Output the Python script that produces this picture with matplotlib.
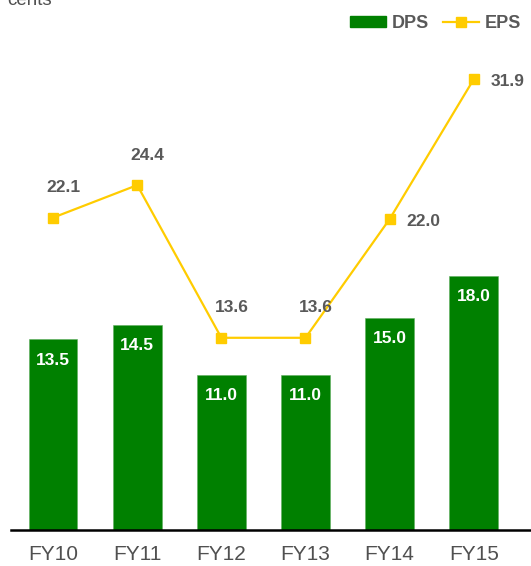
import matplotlib
matplotlib.use("Agg")
import matplotlib.pyplot as plt
from matplotlib.lines import Line2D
from matplotlib.patches import Patch

plt.rcParams['font.family'] = ['Liberation Sans', 'DejaVu Sans']

years = ["FY10", "FY11", "FY12", "FY13", "FY14", "FY15"]
dps = [13.5, 14.5, 11.0, 11.0, 15.0, 18.0]
eps = [22.1, 24.4, 13.6, 13.6, 22.0, 31.9]

green = "#008000"
yellow = "#FFCC00"
label_grey = "#595959"

fig = plt.figure(figsize=(5.31, 5.66), dpi=100)
ax = fig.add_axes([11 / 531, 36 / 566, 1 - 11 / 531, 530 / 566])

x = list(range(len(years)))
ax.bar(x, dps, width=0.58, color=green, edgecolor="#5fae5f", linewidth=0.4, zorder=2)
ax.plot(x, eps, color=yellow, linewidth=1.6, marker="s", markersize=7, zorder=3)

for xi, v in zip(x, dps):
    ax.text(xi, v - 0.95, f"{v:.1f}", ha="center", va="top", color="white",
            fontsize=12.5, fontweight="bold", zorder=4)

# EPS value labels: above the point for the first four years, to the right for the last two
for xi, v in zip(x, eps):
    if xi < 4:
        ax.text(xi + 0.12, v + 1.6, f"{v:.1f}", ha="center", va="bottom", color=label_grey,
                fontsize=12.5, fontweight="bold")
    else:
        ax.text(xi + 0.2, v - 0.2, f"{v:.1f}", ha="left", va="center", color=label_grey,
                fontsize=12.5, fontweight="bold")

ax.set_xlim(-0.5, 5.68)
ax.set_ylim(0, 37.5)
ax.set_xticks(x)
ax.set_xticklabels(years, fontsize=15, color="#505050")
ax.tick_params(axis="x", length=0, pad=11)
ax.set_yticks([])
for side in ["top", "right", "left"]:
    ax.spines[side].set_visible(False)
ax.spines["bottom"].set_color("black")
ax.spines["bottom"].set_linewidth(1.8)

handles = [
    Patch(facecolor=green, edgecolor=green),
    Line2D([0], [0], color=yellow, linewidth=1.6, marker="s", markersize=7),
]
leg = fig.legend(handles, ["DPS", "EPS"], loc="center right", bbox_to_anchor=(1.0, 1 - 23 / 566),
                 ncol=2, frameon=False, handlelength=2.0, handleheight=0.55, handletextpad=0.3,
                 columnspacing=0.8, borderaxespad=0.15,
                 prop={"weight": "bold", "size": 13})
for t in leg.get_texts():
    t.set_color(label_grey)

fig.text(7 / 531, 1 - 5 / 566, "cents", ha="left", va="baseline", fontsize=13.5, color="#505050")

fig.savefig("out.png", dpi=100)
